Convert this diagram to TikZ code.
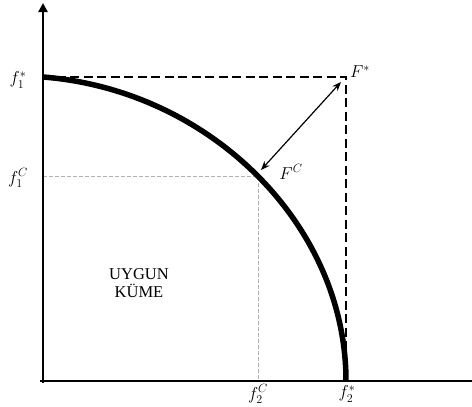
\documentclass[tikz,border=0pt]{standalone}
\usepackage{fontspec}
\setmainfont{Liberation Serif}
\usetikzlibrary{arrows.meta}
\begin{document}
\begin{tikzpicture}[x=1pt,y=-1pt,
  axis/.style={line width=2.6pt},
  curve/.style={line width=5.5pt},
  bdash/.style={line width=2.4pt, dash pattern=on 9pt off 4.5pt},
  gdash/.style={line width=0.9pt, gray!60, dash pattern=on 4pt off 2pt},
  lab/.style={font=\fontsize{18}{18}\selectfont, inner sep=0pt},
  txt/.style={font=\fontsize{16.5}{18}\selectfont, align=center}]
\useasboundingbox (0,0) rectangle (472,407);
\coordinate (O) at (43,381);
\coordinate (Ytop) at (43,3);
\coordinate (Xend) at (472,381);
\coordinate (A) at (43,77);
\coordinate (Fs) at (346,77);
\coordinate (B) at (346,381);
\coordinate (C) at (258,176);
\coordinate (CY) at (43,176);
\coordinate (CX) at (258,381);
% gray guides
\draw[gdash] (CY) -- (C) -- (CX);
% dashed box
\draw[bdash] (A) -- (Fs) -- (B);
% axes
\draw[axis, -{Triangle[length=9pt,width=9pt]}] (43,383) -- (Ytop);
\draw[axis] (40,381) -- (Xend);
% curve
\draw[curve] (A) .. controls (210,90) and (346,225) .. (B);
% double arrow
\coordinate (P1) at (341,82);
\coordinate (P2) at (261,170);
\draw[line width=1.2pt, {Stealth[length=9pt,width=7pt]}-{Stealth[length=9pt,width=7pt]}] (P2) -- (P1);
% labels
\node[lab] (l1s) at (18,80) {$f_1^{*}$};
\node[lab] (l1c) at (18,178) {$f_1^{C}$};
\node[lab] (lFs) at (360,72) {$F^{*}$};
\node[lab] (lFc) at (291,172) {$F^{C}$};
\node[lab] (l2c) at (258,394) {$f_2^{C}$};
\node[lab] (l2s) at (347,394) {$f_2^{*}$};
\node[txt] (uk) at (139,283) {UYGUN\\KÜME};
\end{tikzpicture}
\end{document}
